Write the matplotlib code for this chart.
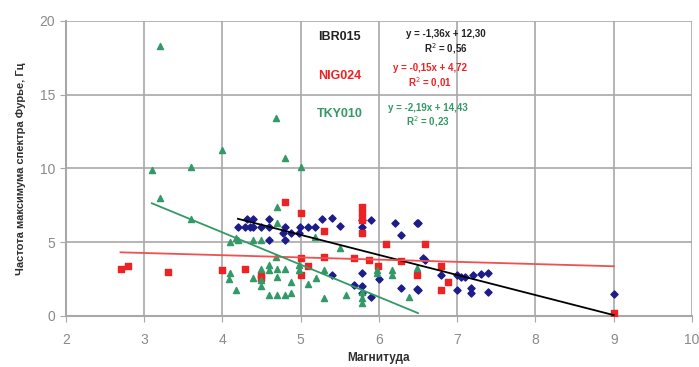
import numpy as np
import matplotlib
matplotlib.use("Agg")
import matplotlib.pyplot as plt

plt.rcParams['font.family'] = ['Liberation Sans', 'DejaVu Sans']

# IBR015 (синие ромбы)
ibr_m = [4.2, 4.29, 4.35, 4.39, 4.5, 4.6, 4.8, 4.99, 5.09, 5.18,
         4.31, 4.39, 4.6, 4.77, 4.88, 4.98, 4.6, 4.8,
         5.28, 5.4, 5.5, 5.78, 5.78, 5.9, 6.2, 6.28, 6.49, 6.5,
         5.4, 5.79, 5.68, 5.79, 5.79, 5.9, 6.0, 6.28, 6.49, 6.59, 6.57,
         6.79, 7.0, 7.05, 7.1, 7.2, 7.3, 7.4, 6.5, 7.0, 7.18, 7.18, 7.4, 9.0]
ibr_f = [6.05, 6.05, 6.05, 6.05, 6.05, 6.05, 6.05, 6.05, 6.05, 6.05,
         6.55, 6.55, 6.55, 5.6, 5.6, 5.6, 5.15, 5.15,
         6.6, 6.65, 6.1, 6.5, 6.05, 6.5, 6.3, 5.5, 6.3, 6.3,
         2.8, 2.9, 2.1, 2.0, 1.55, 1.3, 2.5, 1.9, 1.8, 3.8, 3.9,
         2.8, 2.8, 2.65, 2.65, 2.8, 2.85, 2.9, 1.76, 1.76, 1.9, 1.55, 1.6, 1.5]

# NIG024 (красные квадраты)
nig_m = [2.7, 2.8, 3.31, 4.0, 4.8, 5.0, 4.29, 4.5, 4.5, 5.0, 5.0, 5.1, 5.3, 5.3,
         5.78, 5.78, 5.78, 5.78, 5.68, 5.87, 5.99, 6.09, 6.28, 6.49, 6.59,
         6.79, 6.88, 6.79, 9.0]
nig_f = [3.2, 3.4, 3.0, 3.1, 7.7, 7.0, 3.2, 2.8, 2.55, 3.9, 2.8, 3.4, 4.0, 5.75,
         7.4, 7.0, 6.5, 5.6, 3.9, 3.8, 3.4, 4.9, 3.7, 2.8, 4.9,
         3.4, 2.3, 1.76, 0.2]

# TKY010 (зелёные треугольники)
tky_m = [3.21, 3.1, 3.6, 4.0, 4.69, 4.8, 5.0, 3.2, 3.6, 4.1, 4.18, 4.1, 4.08, 4.18,
         4.7, 4.2, 4.39, 4.5, 4.7, 4.69, 4.39, 4.5, 4.5, 4.5, 4.6, 4.6, 4.6,
         4.7, 4.7, 4.7, 4.8, 4.8, 4.88, 4.88, 4.98, 4.98, 5.09, 5.2, 5.19, 5.5,
         5.3, 5.3, 5.58, 5.79, 5.79, 5.79, 5.98, 5.98, 6.17, 6.17, 6.39, 6.49]
tky_f = [18.3, 9.9, 10.1, 11.25, 13.4, 10.7, 10.1, 8.0, 6.6, 5.0, 5.3, 2.9, 2.5, 1.76,
         7.4, 5.15, 5.15, 5.15, 6.3, 4.0, 2.6, 3.2, 2.45, 2.0, 3.45, 3.1, 1.4,
         3.2, 2.65, 1.4, 3.2, 1.4, 2.3, 1.55, 3.45, 3.1, 2.2, 2.6, 5.35, 4.6,
         3.1, 1.2, 1.4, 1.6, 1.2, 0.9, 3.1, 2.9, 3.1, 2.8, 1.3, 3.25]

# линии тренда: (наклон, сдвиг, x от, x до)
ibr_fit = (-1.36, 12.30, 4.2, 9.0)
nig_fit = (-0.15, 4.72, 2.7, 9.0)
tky_fit = (-2.19, 14.43, 3.1, 6.5)

blue = '#1c1c8a'
red = '#ee2222'
green = '#339966'

fig = plt.figure(figsize=(6.99, 3.67), dpi=100)
ax = fig.add_axes([0.094, 0.139, 0.896, 0.804])

ax.scatter(ibr_m, ibr_f, marker='D', s=13, color=blue, zorder=3)
ax.scatter(nig_m, nig_f, marker='s', s=17, color=red, zorder=3)
ax.scatter(tky_m, tky_f, marker='^', s=19, color=green, zorder=3)

for (k, b, x0, x1), c in [(ibr_fit, 'black'), (nig_fit, '#f05050'), (tky_fit, green)]:
    xx = np.array([x0, x1])
    ax.plot(xx, k * xx + b, color=c, lw=1.3, zorder=4)

ax.set_xlim(2, 10)
ax.set_ylim(0, 20)
ax.set_xticks(range(2, 11))
ax.set_yticks(range(0, 21, 5))
ax.grid(True, color='#a8a8a8', lw=1.2)
ax.set_axisbelow(True)
for s in ['top', 'right']:
    ax.spines[s].set_visible(False)
for s in ['left', 'bottom']:
    ax.spines[s].set_color('#a8a8a8')
    ax.spines[s].set_linewidth(1.5)
ax.tick_params(colors='#a8a8a8', labelcolor='#8a8a8a', labelsize=10, length=4)
ax.tick_params(axis='x', pad=8)

ax.set_xlabel('Магнитуда', fontsize=8.5, fontweight='bold', color='#303030', labelpad=4)
ax.set_ylabel('Частота максимума спектра Фурье, Гц', fontsize=8, fontweight='bold',
              color='#303030', labelpad=10)

# подписи
ax.text(5.5, 18.9, 'IBR015', fontsize=9, fontweight='bold', color='#222222', ha='center', va='center')
ax.text(6.85, 19.1, 'y = -1,36x + 12,30', fontsize=7, fontweight='bold', color='#222222', ha='center', va='center')
ax.text(6.85, 18.1, 'R$^2$ = 0,56', fontsize=7, fontweight='bold', color='#222222', ha='center', va='center')
ax.text(5.5, 16.3, 'NIG024', fontsize=9, fontweight='bold', color=red, ha='center', va='center')
ax.text(6.65, 16.8, 'y = -0,15x + 4,72', fontsize=7, fontweight='bold', color=red, ha='center', va='center')
ax.text(6.65, 15.85, 'R$^2$ = 0,01', fontsize=7, fontweight='bold', color=red, ha='center', va='center')
ax.text(5.5, 13.7, 'TKY010', fontsize=9, fontweight='bold', color=green, ha='center', va='center')
ax.text(6.62, 14.1, 'y = -2,19x + 14,43', fontsize=7, fontweight='bold', color=green, ha='center', va='center')
ax.text(6.62, 13.2, 'R$^2$ = 0,23', fontsize=7, fontweight='bold', color=green, ha='center', va='center')

fig.savefig('out.png', dpi=100)
